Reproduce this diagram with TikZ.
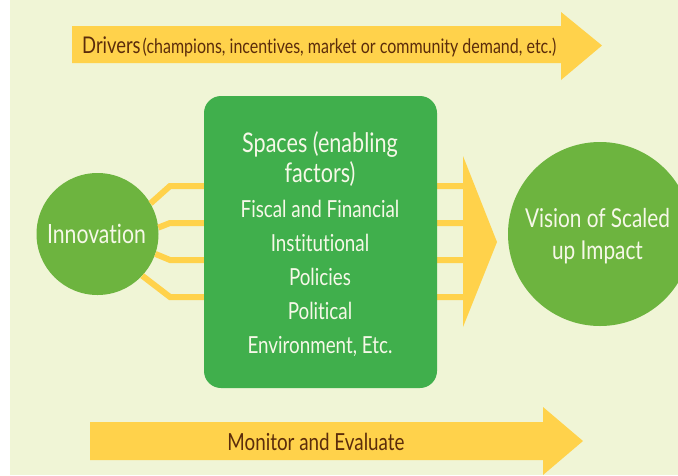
\documentclass[tikz,border=0pt]{standalone}
\usepackage{fontspec}
\setmainfont[FakeStretch=0.8,Ligatures={NoCommon,NoRare}]{Lato}
\definecolor{bgc}{HTML}{F0F5D6}
\definecolor{yel}{HTML}{FFD24B}
\definecolor{cgreen}{HTML}{6DB43F}
\definecolor{bgreen}{HTML}{40AF4C}
\definecolor{brown}{HTML}{5B2C0B}
\definecolor{wtext}{HTML}{F6F8E8}
\tikzset{
  conn/.style={draw=yel, line width=6pt, line join=miter},
  yarrow/.style={fill=yel, draw=none},
  circ/.style={circle, fill=cgreen, draw=none, inner sep=0pt, text=wtext},
  boxnode/.style={rectangle, rounded corners=17pt, fill=bgreen, draw=none, minimum width=233pt, minimum height=292pt, inner sep=0pt},
  wlabel/.style={anchor=base, inner sep=0pt, text=wtext, font=\fontsize{23.5}{28}\selectfont},
  blabel/.style={anchor=base, inner sep=0pt, text=brown},
}
\begin{document}
\begin{tikzpicture}[x=1pt,y=-1pt]
\useasboundingbox (0,0) rectangle (678,475);
\clip (0,0) rectangle (678,475);
\fill[bgc] (10,0) rectangle (678,475);
% top arrow
\fill[yarrow] (72,26) -- (561,26) -- (561,12) -- (602,45.5) -- (561,80) -- (561,63) -- (72,63) -- cycle;
\node[blabel, anchor=base west] (drivers) at (82,53) {{\fontsize{23}{26}\selectfont Drivers} {\fontsize{20}{22}\selectfont (champions, incentives, market or community demand, etc.)}};
% bottom arrow
\fill[yarrow] (90,422) -- (543,422) -- (543,407) -- (583,441) -- (543,475) -- (543,460) -- (90,460) -- cycle;
\node[blabel, font=\fontsize{23.5}{27}\selectfont] (monitor) at (316,450) {Monitor and Evaluate};
% innovation
\node[circ, minimum size=122pt] (inno) at (97.5,234) {};
% triangle
\fill[yarrow] (463,156) -- (497,242) -- (463,327) -- cycle;
\coordinate (t1) at (464,186);
\coordinate (t2) at (464,223);
\coordinate (t3) at (464,260);
\coordinate (t4) at (464,297);
% connectors
\draw[conn] (inno.30) -- (170,186) -- (t1);
\draw[conn] (inno.6) -- (170,223) -- (t2);
\draw[conn] (inno.-19) -- (170,260) -- (t3);
\draw[conn] (inno.-43) -- (170,297) -- (t4);
\node[wlabel, font=\fontsize{26.5}{30}\selectfont] (innotext) at (96.5,243.5) {Innovation};
% spaces box
\node[boxnode] (spaces) at (320.5,242) {};
\node[wlabel, font=\fontsize{27}{30}\selectfont] (s1) at (320,152) {Spaces (enabling};
\node[wlabel, font=\fontsize{27}{30}\selectfont] (s2) at (320,182) {factors)};
\node[wlabel] (s3) at (320,217) {Fiscal and Financial};
\node[wlabel] (s4) at (320,251) {Institutional};
\node[wlabel] (s5) at (320,285) {Policies};
\node[wlabel] (s6) at (320,319) {Political};
\node[wlabel] (s7) at (320,353) {Environment, Etc.};
% vision
\node[circ, minimum size=184pt] (vision) at (600,234) {};
\node[wlabel, font=\fontsize{26}{30}\selectfont] (v1) at (597.5,227) {Vision of Scaled};
\node[wlabel, font=\fontsize{26}{30}\selectfont] (v2) at (597.5,259) {up Impact};
\end{tikzpicture}
\end{document}
